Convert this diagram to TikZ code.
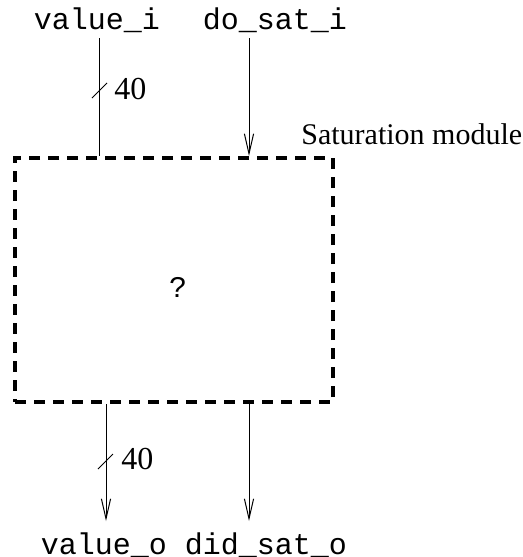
\documentclass[tikz,border=0pt]{standalone}
\usepackage{fontspec}
\setmainfont{Liberation Serif}
\setmonofont{Liberation Mono}
\usetikzlibrary{arrows.meta}

\begin{document}
\begin{tikzpicture}[x=0.5pt,y=-0.5pt,
    sig/.style={font=\fontsize{15}{18}\selectfont\ttfamily},
    lbl/.style={font=\fontsize{15}{18}\selectfont,inner sep=0pt},
    wire/.style={line width=0.5pt},
    into/.style={wire,-{Straight Barb[length=10pt,width=4.6pt]}}]
    \useasboundingbox (0,0) rectangle (523,557);
    \node[draw,line width=2pt,dash pattern=on 5.5pt off 4pt,minimum width=159pt,minimum height=122pt] (sat) at (174,280) {};
    \node[lbl,anchor=base west] (name) at (301,144) {Saturation module};
    \node[sig] (q) at (178,287) {?};
    % inputs
    \node[sig] (vi) at (97,20) {value\_i};
    \node[sig] (dsi) at (275,20) {do\_sat\_i};
    \coordinate (vi-in) at (99,38);
    \coordinate (dsi-in) at (249,38);
    \draw[wire] (vi-in) -- (vi-in |- sat.north);
    \draw[into] (dsi-in) -- (dsi-in |- sat.north);
    \draw[wire] (92,98) -- (107,83);
    \node[lbl,font=\fontsize{16}{19}\selectfont,anchor=base west] (wi) at (114,99) {40};
    % outputs
    \node[sig] (vo) at (104,545) {value\_o};
    \node[sig] (dso) at (266,545) {did\_sat\_o};
    \coordinate (vo-out) at (106,521);
    \coordinate (dso-out) at (249,521);
    \draw[into] (vo-out |- sat.south) -- (vo-out);
    \draw[into] (dso-out |- sat.south) -- (dso-out);
    \draw[wire] (98,469) -- (113,454);
    \node[lbl,font=\fontsize{16}{19}\selectfont,anchor=base west] (wo) at (121,469) {40};
\end{tikzpicture}
\end{document}
